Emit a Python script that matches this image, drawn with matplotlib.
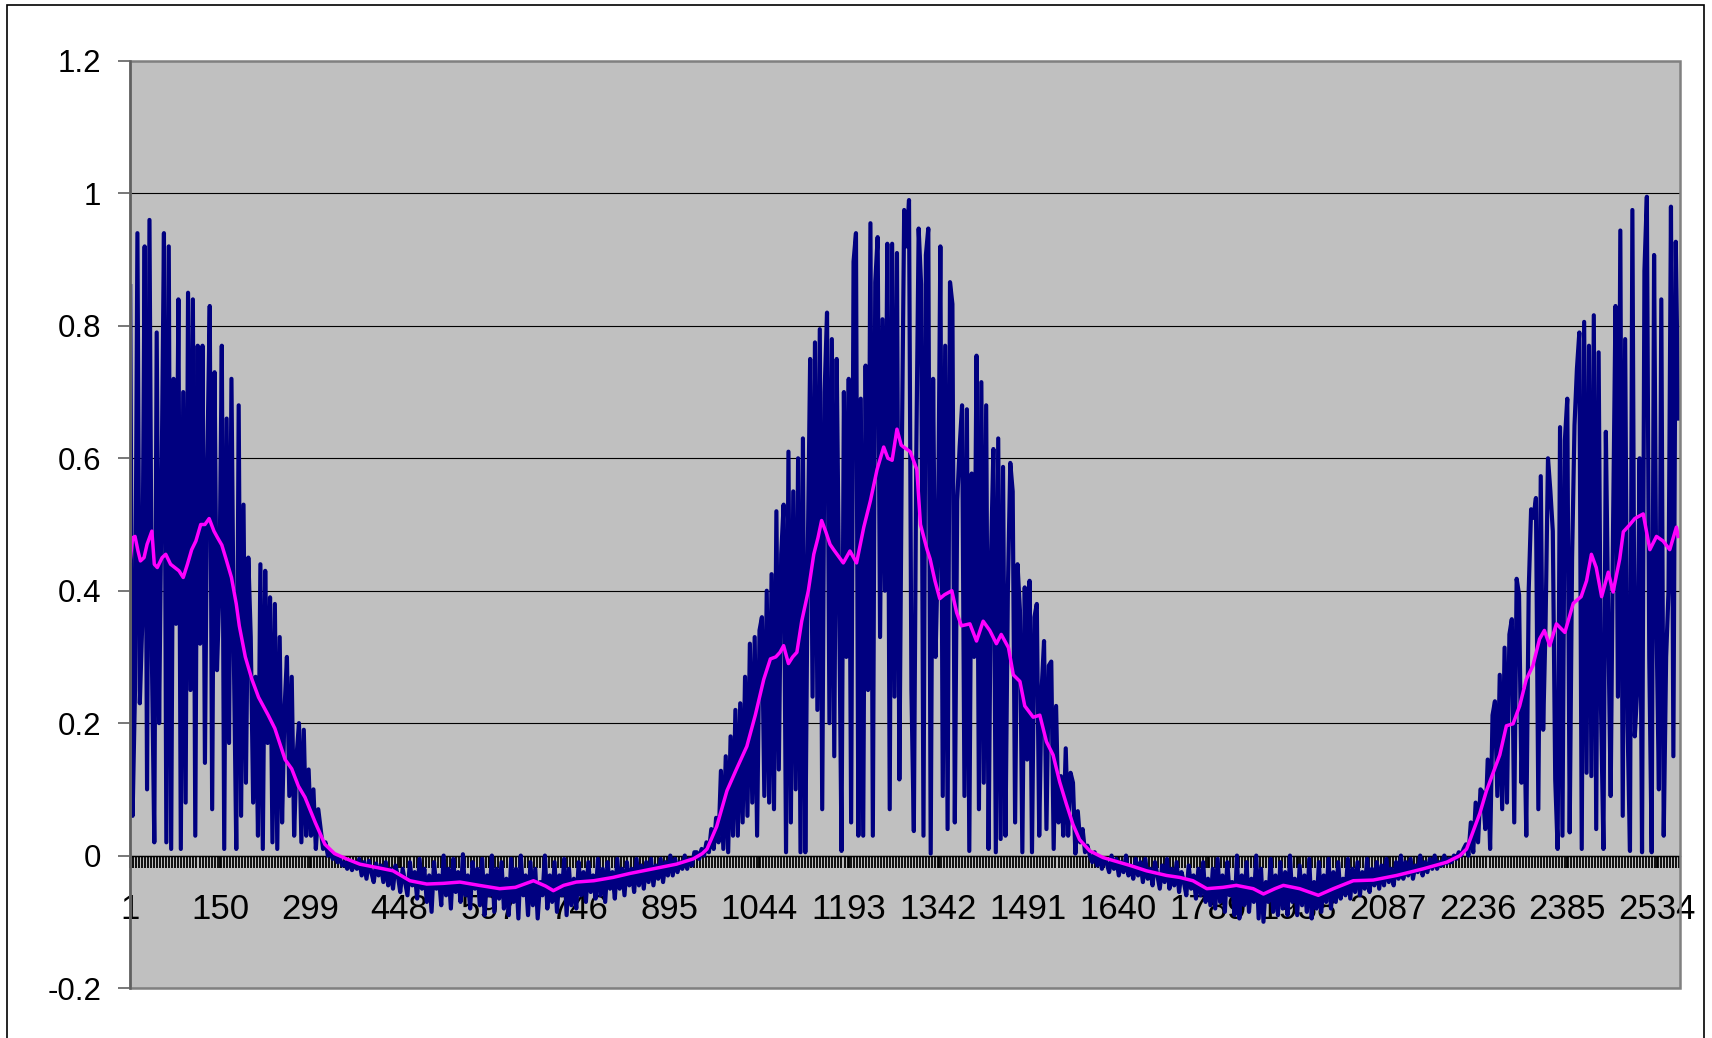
import numpy as np
import matplotlib
matplotlib.use('Agg')
import matplotlib.pyplot as plt
from matplotlib.patches import Rectangle

plt.rcParams['font.family'] = ['Liberation Sans', 'DejaVu Sans']

peak1_start = 1
peak1 = [0.86, 0.06, 0.25, 0.94, 0.23, 0.35, 0.92, 0.10, 0.96, 0.30,
         0.02, 0.79, 0.20, 0.55, 0.94, 0.02, 0.92, 0.01, 0.72, 0.35,
         0.84, 0.01, 0.70, 0.08, 0.85, 0.25, 0.84, 0.03, 0.77, 0.32,
         0.77, 0.14, 0.60, 0.83, 0.07, 0.73, 0.28, 0.40, 0.77, 0.01,
         0.66, 0.17, 0.72, 0.30, 0.01, 0.68, 0.06, 0.53, 0.11, 0.45,
         0.33, 0.08, 0.27, 0.03, 0.44, 0.01, 0.43, 0.17, 0.39, 0.02,
         0.38, 0.01, 0.33, 0.05, 0.22, 0.30, 0.09, 0.27, 0.03, 0.15,
         0.20, 0.02, 0.19, 0.03, 0.13, 0.03, 0.10, 0.01, 0.07, 0.04,
         0.01, 0.02, 0.00, 0.005, -0.005, 0.00, -0.01, -0.005, -0.015, -0.01,
         -0.02, -0.008, -0.022, -0.01, -0.02]

trough1_start = 381
trough1 = [-0.005, -0.03, -0.01, -0.035, -0.008, -0.025, -0.04, -0.012, -0.03, -0.015,
           -0.04, -0.01, -0.045, -0.02, -0.05, -0.015, -0.03, -0.055, -0.02, -0.04,
           -0.06, -0.01, -0.045, -0.025, -0.065, -0.005, -0.05, -0.02, -0.07, -0.03,
           -0.085, -0.01, -0.05, -0.03, -0.075, 0.0, -0.06, -0.02, -0.08, -0.005,
           -0.055, -0.025, -0.07, 0.002, -0.06, -0.03, -0.08, -0.01, -0.05, -0.02,
           -0.075, -0.005, -0.09, -0.03, -0.06, 0.0, -0.085, -0.02, -0.065, -0.01,
           -0.08, -0.035, -0.09, -0.005, -0.07, -0.02, -0.095, 0.0, -0.06, -0.03,
           -0.09, -0.01, -0.075, -0.02, -0.095, -0.04, -0.06, 0.0, -0.08, -0.03,
           -0.07, -0.01, -0.085, -0.03, -0.06, -0.005, -0.09, -0.02, -0.075, -0.035,
           -0.08, -0.01, -0.06, -0.025, -0.07, -0.01, -0.055, -0.03, -0.065, -0.005,
           -0.06, -0.02, -0.07, -0.01, -0.05, -0.025, -0.065, -0.005, -0.05, -0.02,
           -0.06, -0.01, -0.045, -0.02, -0.055, -0.005, -0.045, -0.015, -0.05, -0.01,
           -0.04, -0.005, -0.045, -0.015, -0.035, -0.005, -0.04, -0.01, -0.03, 0.0,
           -0.03, -0.005, -0.025, -0.01, -0.02, 0.0, -0.02, -0.005, -0.015, 0.005]

peak2_up_start = 941
peak2_up = [0.005, -0.005, 0.01, 0.0, 0.02, 0.005, 0.04, 0.01, 0.057, 0.02,
            0.128, 0.01, 0.15, 0.005, 0.18, 0.03, 0.22, 0.03, 0.23, 0.05,
            0.27, 0.06, 0.32, 0.08, 0.33, 0.03, 0.34, 0.36, 0.09, 0.40,
            0.08, 0.425, 0.07, 0.52, 0.13, 0.455, 0.53, 0.005, 0.61, 0.05,
            0.55, 0.10, 0.60, 0.005, 0.63, 0.005, 0.45, 0.75, 0.24, 0.775,
            0.22, 0.795, 0.07, 0.70, 0.82, 0.20, 0.78, 0.15, 0.75, 0.40,
            0.007, 0.70, 0.30, 0.72, 0.05, 0.897, 0.94, 0.03, 0.69, 0.03,
            0.74, 0.25, 0.955, 0.03, 0.866, 0.934, 0.33, 0.81, 0.40, 0.924,
            0.07, 0.924, 0.24, 0.91, 0.115, 0.60, 0.975, 0.92, 0.99, 0.25,
            0.037, 0.60, 0.947, 0.863, 0.03]

peak2_down_start = 1321
peak2_down = [0.907, 0.947, 0.003, 0.72, 0.30, 0.46, 0.92, 0.09, 0.77, 0.04,
              0.866, 0.833, 0.05, 0.536, 0.617, 0.68, 0.09, 0.674, 0.007, 0.577,
              0.30, 0.755, 0.07, 0.715, 0.11, 0.68, 0.01, 0.45, 0.614, 0.005,
              0.63, 0.025, 0.587, 0.03, 0.40, 0.593, 0.55, 0.05, 0.44, 0.37,
              0.005, 0.405, 0.145, 0.415, 0.005, 0.36, 0.38, 0.03, 0.25, 0.324,
              0.04, 0.287, 0.293, 0.01, 0.226, 0.05, 0.12, 0.03, 0.162, 0.03,
              0.125, 0.11, 0.003, 0.067, 0.02, 0.04, 0.005, 0.015]

trough2_start = 1593
trough2 = [0.0, -0.01, 0.005, -0.015, -0.002, -0.02, -0.005, -0.012, -0.025, 0.0,
           -0.02, -0.005, -0.03, -0.01, -0.025, 0.0, -0.03, -0.015, -0.035, -0.005,
           -0.03, -0.01, -0.04, -0.005, -0.035, -0.02, -0.045, -0.01, -0.03, -0.05,
           -0.015, -0.04, -0.005, -0.05, -0.02, -0.045, -0.01, -0.055, -0.025, -0.04,
           -0.06, -0.015, -0.05, -0.03, -0.065, -0.02, -0.06, -0.01, -0.07, -0.035,
           -0.075, -0.02, -0.08, -0.005, -0.07, -0.03, -0.085, -0.01, -0.06, -0.04,
           -0.09, 0.0, -0.095, -0.03, -0.075, -0.01, -0.085, -0.035, -0.07, 0.0,
           -0.095, -0.02, -0.1, -0.04, -0.07, -0.005, -0.085, -0.03, -0.09, -0.01,
           -0.08, -0.025, -0.09, 0.0, -0.07, -0.035, -0.09, -0.015, -0.075, -0.03,
           -0.085, -0.005, -0.095, -0.04, -0.08, -0.01, -0.085, -0.03, -0.07, -0.005,
           -0.08, -0.025, -0.07, -0.01, -0.065, -0.035, -0.06, -0.005, -0.065, -0.02,
           -0.055, -0.01, -0.06, -0.025, -0.05, -0.005, -0.055, -0.02, -0.045, -0.01,
           -0.05, -0.015, -0.045, -0.005, -0.04, -0.02, -0.045, -0.01, -0.035, 0.0,
           -0.035, -0.01, -0.03, -0.005, -0.035, -0.015, -0.025, 0.0, -0.03, -0.01,
           -0.025, -0.005, -0.02, 0.0, -0.02, -0.01, -0.015, 0.0, -0.012, -0.005,
           -0.01, 0.0, -0.005, 0.005, 0.0]

peak3_start = 2213
peak3 = [0.01, 0.017, 0.0, 0.05, 0.005, 0.08, 0.02, 0.10, 0.095, 0.04,
         0.145, 0.01, 0.212, 0.233, 0.09, 0.273, 0.07, 0.314, 0.08, 0.334,
         0.357, 0.05, 0.418, 0.394, 0.11, 0.25, 0.03, 0.40, 0.523, 0.51,
         0.54, 0.07, 0.573, 0.19, 0.35, 0.60, 0.55, 0.49, 0.115, 0.01,
         0.647, 0.03, 0.627, 0.69, 0.035, 0.45, 0.65, 0.735, 0.79, 0.01,
         0.806, 0.125, 0.77, 0.12, 0.816, 0.04, 0.76, 0.22, 0.01, 0.64,
         0.35, 0.09, 0.50, 0.83, 0.24, 0.944, 0.06, 0.78, 0.20, 0.007,
         0.975, 0.18, 0.25, 0.60, 0.005, 0.883, 0.995, 0.30, 0.005, 0.907,
         0.35, 0.10, 0.84, 0.03, 0.30, 0.40, 0.98, 0.15, 0.927, 0.66]

# smoothed curve (moving average), sample -> value
avg_x = [1, 5, 9, 14, 18, 24, 29, 37, 41, 46, 54, 60, 68, 75, 82, 89, 96, 103, 110, 118,
         125, 132, 140, 146, 153, 160, 169, 177, 182, 192, 203, 214, 230, 241, 258, 269, 280, 291, 308, 324,
         340, 360, 382, 410, 437, 465, 493, 520, 548, 580, 614, 640, 670, 690, 703, 720, 741, 770, 802, 830,
         852, 880, 907, 935, 950, 958, 974, 991, 1007, 1024, 1038, 1052, 1063, 1072, 1079, 1085, 1093, 1100, 1107, 1115,
         1126, 1135, 1142, 1148, 1155, 1162, 1168, 1184, 1195, 1206, 1218, 1229, 1240, 1251, 1258, 1265, 1273, 1280, 1284, 1295,
         1306, 1312, 1323, 1328, 1336, 1344, 1352, 1364, 1372, 1380, 1394, 1405, 1416, 1427, 1438, 1446, 1458, 1466, 1477, 1485,
         1499, 1510, 1521, 1532, 1543, 1554, 1565, 1576, 1593, 1615, 1660, 1687, 1720, 1742, 1764, 1787, 1814, 1836, 1864, 1881,
         1900, 1914, 1941, 1972, 1997, 2030, 2063, 2102, 2146, 2185, 2207, 2218, 2229, 2240, 2251, 2262, 2273, 2284, 2295, 2306,
         2317, 2328, 2339, 2347, 2356, 2367, 2381, 2395, 2408, 2417, 2425, 2433, 2442, 2453, 2461, 2472, 2478, 2488, 2497, 2511,
         2522, 2533, 2544, 2555, 2566, 2569]
avg_y = [0.445, 0.48, 0.482, 0.46, 0.445, 0.45, 0.47, 0.49, 0.44, 0.435, 0.45, 0.455, 0.44, 0.435, 0.43, 0.42, 0.44, 0.462, 0.475, 0.50,
         0.50, 0.509, 0.49, 0.48, 0.469, 0.448, 0.42, 0.38, 0.347, 0.30, 0.266, 0.239, 0.212, 0.192, 0.145, 0.131, 0.105, 0.088, 0.05, 0.017,
         0.003, -0.005, -0.013, -0.018, -0.023, -0.038, -0.043, -0.042, -0.04, -0.045, -0.05, -0.048, -0.038, -0.046, -0.053, -0.045, -0.04, -0.038, -0.033, -0.027,
         -0.023, -0.018, -0.013, -0.005, 0.003, 0.01, 0.044, 0.098, 0.131, 0.165, 0.212, 0.266, 0.297, 0.30, 0.307, 0.317, 0.29, 0.30, 0.307, 0.354,
         0.40, 0.455, 0.48, 0.506, 0.489, 0.47, 0.462, 0.442, 0.46, 0.442, 0.496, 0.536, 0.583, 0.617, 0.60, 0.597, 0.644, 0.62, 0.617, 0.61,
         0.583, 0.50, 0.462, 0.448, 0.415, 0.388, 0.394, 0.40, 0.367, 0.347, 0.35, 0.324, 0.354, 0.34, 0.32, 0.334, 0.314, 0.273, 0.263, 0.226,
         0.209, 0.212, 0.172, 0.152, 0.111, 0.078, 0.047, 0.024, 0.007, -0.003, -0.015, -0.023, -0.03, -0.033, -0.038, -0.05, -0.048, -0.045, -0.05, -0.058,
         -0.05, -0.045, -0.05, -0.06, -0.05, -0.038, -0.037, -0.03, -0.02, -0.01, 0.0, 0.01, 0.037, 0.064, 0.098, 0.125, 0.152, 0.196, 0.199, 0.226,
         0.266, 0.287, 0.327, 0.34, 0.317, 0.35, 0.337, 0.381, 0.391, 0.415, 0.455, 0.435, 0.391, 0.428, 0.398, 0.448, 0.489, 0.499, 0.509, 0.516,
         0.462, 0.482, 0.475, 0.462, 0.496, 0.482]

x_labels = [1, 150, 299, 448, 597, 746, 895, 1044, 1193, 1342, 1491, 1640, 1789, 1938, 2087, 2236, 2385, 2534]
y_ticks = [-0.2, 0, 0.2, 0.4, 0.6, 0.8, 1.0, 1.2]
y_labels = ['-0.2', '0', '0.2', '0.4', '0.6', '0.8', '1', '1.2']

segments = [(peak1_start, peak1), (trough1_start, trough1), (peak2_up_start, peak2_up),
            (peak2_down_start, peak2_down), (trough2_start, trough2), (peak3_start, peak3)]
raw_x = np.concatenate([s + 4 * np.arange(len(v)) for s, v in segments])
raw_y = np.concatenate([np.array(v) for s, v in segments])

W, H = 1712, 1038
fig = plt.figure(figsize=(W / 100, H / 100), dpi=100)
fig.patch.set_facecolor('white')
ax = fig.add_axes([130 / W, 50 / H, 1550 / W, 927 / H])
ax.set_facecolor('#C0C0C0')

ax.plot(raw_x, raw_y, color='#000080', lw=3.0, zorder=3)
ax.plot(avg_x, avg_y, color='#FF00FF', lw=2.5, zorder=4)

ax.set_xlim(0.7, 2572)
ax.set_ylim(-0.2, 1.2)
ax.set_yticks(y_ticks)
ax.set_yticklabels(y_labels)
ax.yaxis.grid(True, color='black', lw=0.8)
ax.set_xticks(x_labels)
ax.set_xticklabels([str(v) for v in x_labels])
ax.set_xticks(np.arange(1, 2572, 5), minor=True)

ax.tick_params(axis='x', which='both', direction='out', length=8.6, width=1.3,
               color='black', labelsize=25, pad=18)
ax.tick_params(axis='y', direction='out', length=8.6, width=1.2,
               color='#606060', labelsize=22.5, pad=12)

ax.spines['top'].set_visible(False)
ax.spines['right'].set_visible(False)
ax.spines['bottom'].set_position(('data', 0))
ax.spines['bottom'].set_color('black')
ax.spines['bottom'].set_linewidth(1.0)
ax.spines['left'].set_color('#606060')
ax.spines['left'].set_linewidth(1.8)
ax.spines['left'].set_zorder(6)

# plot area frame
ax.add_patch(Rectangle((0, 0), 1, 1, transform=ax.transAxes, fill=False,
                       ec='#808080', lw=1.8, zorder=5, clip_on=False))
# chart border
fig.add_artist(Rectangle((7 / W, -2 / H), 1697 / W, 1035 / H, transform=fig.transFigure,
                         fill=False, ec='black', lw=1.2))

fig.savefig('out.png', dpi=100)
